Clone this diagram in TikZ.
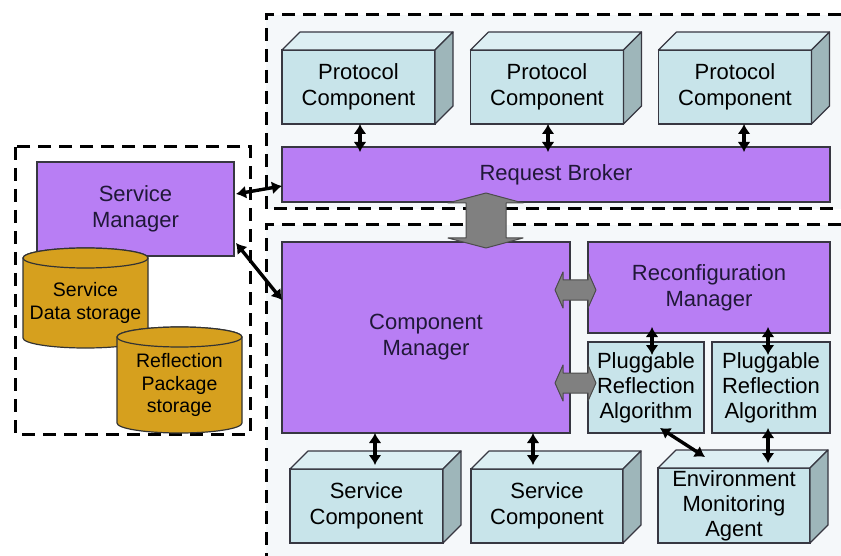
\documentclass[tikz,border=0pt]{standalone}
\usepackage{fontspec}
\setmainfont{Liberation Sans}
\usetikzlibrary{calc,arrows.meta}
\definecolor{purp}{RGB}{184,126,244}
\definecolor{cyanf}{RGB}{200,228,234}
\definecolor{cyant}{RGB}{220,239,243}
\definecolor{cyans}{RGB}{158,182,186}
\definecolor{gold}{RGB}{214,160,30}
\definecolor{edge}{RGB}{55,55,65}
\definecolor{fat}{RGB}{128,128,128}
\definecolor{bgc}{RGB}{245,248,250}
\definecolor{ptext}{RGB}{32,24,56}
\newcommand\cubefaces[1]{%
  \filldraw[fill=cyant, draw=edge, line width=1.2pt, line join=round]
    (#1.north west) -- ++(18,-18) -- ($(#1.north east)+(18,-18)$) -- (#1.north east) -- cycle;
  \filldraw[fill=cyans, draw=edge, line width=1.2pt, line join=round]
    (#1.north east) -- ++(18,-18) -- ($(#1.south east)+(18,-18)$) -- (#1.south east) -- cycle;}
\newcommand\cylbody[1]{%
  \filldraw[cylfill] ($(#1.north west)+(0,10)$) -- ($(#1.south west)+(0,-10)$)
    arc[start angle=180,end angle=360,x radius=62.5pt,y radius=10pt]
    -- ($(#1.north east)+(0,10)$)
    arc[start angle=0,end angle=180,x radius=62.5pt,y radius=10pt] -- cycle;
  \filldraw[cylfill] ($(#1.north)+(0,10)$) ellipse[x radius=62.5pt,y radius=10pt];}
\begin{document}
\begin{tikzpicture}[x=1pt,y=-1pt,
  font=\fontsize{22}{26}\selectfont,
  purpbox/.style={draw=edge, line width=1.2pt, fill=purp, inner sep=0pt, outer sep=0pt, align=center, text=ptext},
  cubefront/.style={draw=edge, line width=1.2pt, fill=cyanf, inner sep=0pt, outer sep=0pt, align=center, minimum height=74pt, minimum width=153pt},
  flatbox/.style={draw=edge, line width=1.2pt, fill=cyanf, inner sep=0pt, outer sep=0pt, align=center, font=\fontsize{22}{25}\selectfont},
  dashbox/.style={dash pattern=on 13pt off 8pt, line width=3pt, black},
  dbl/.style={{Latex[length=10pt,width=13pt]}-{Latex[length=10pt,width=13pt]}, line width=3.4pt, black},
  fatarrow/.style={fill=fat, draw=black!70, line width=1pt, line join=round},
  cylfill/.style={fill=gold, draw=black!80, line width=1.2pt},
  cylarea/.style={minimum width=125pt, inner sep=0pt, outer sep=0pt},
  cyltext/.style={align=center, inner sep=0pt, font=\fontsize{19.5}{22.5}\selectfont, text=black}
  ]
\useasboundingbox (0,0) rectangle (841,556);
\fill[white] (0,0) rectangle (841,556);
% dashed frames
\fill[bgc] (266,15) rectangle (841,209);
\draw[dashbox] (841,15) -- (266,15) -- (266,209) -- (841,209);
\fill[bgc] (266,225) rectangle (841,556);
\draw[dashbox] (841,225) -- (266,225) -- (266,556);
\fill[white] (15,147) rectangle (250,434);
\draw[dashbox] (15,147) rectangle (250,434);

% protocol components
\node[cubefront] (p1) at (358.5,87) {Protocol\\Component};
\cubefaces{p1}
\node[cubefront] (p2) at (547,87) {Protocol\\Component};
\cubefaces{p2}
\node[cubefront] (p3) at (735,87) {Protocol\\Component};
\cubefaces{p3}

\node[purpbox, minimum width=548pt, minimum height=55pt] (rb) at (556,174.5) {Request Broker};

% left side
\node[purpbox, minimum width=197pt, minimum height=94pt] (sm) at (135.5,209) {Service\\Manager};
\node[cylarea, minimum height=100pt] (c1) at (85.5,298) {};
\cylbody{c1}
\node[cyltext] (c1t) at ($(c1.center)+(0,5)$) {Service\\Data storage};
\node[cylarea, minimum height=106pt] (c2) at (179.5,380) {};
\cylbody{c2}
\node[cyltext] (c2t) at ($(c2.center)+(0,5)$) {Reflection\\Package\\storage};

% lower part
\node[purpbox, minimum width=288pt, minimum height=191pt] (cm) at (426,337.5) {Component\\Manager};
\node[purpbox, minimum width=242pt, minimum height=91pt] (rc) at (709,287.5) {Reconfiguration\\Manager};
\node[flatbox, minimum width=116pt, minimum height=91pt] (pl1) at (646,387.5) {Pluggable\\Reflection\\Algorithm};
\node[flatbox, minimum width=118pt, minimum height=91pt] (pl2) at (771,387.5) {Pluggable\\Reflection\\Algorithm};

\node[cubefront] (sc1) at (366.5,506) {Service\\Component};
\cubefaces{sc1}
\node[cubefront, minimum width=152pt] (sc2) at (547,506) {Service\\Component};
\cubefaces{sc2}
\node[cubefront, minimum width=152pt, minimum height=75pt, font=\fontsize{22}{25}\selectfont] (ema) at (734,505.5) {Environment\\Monitoring\\Agent};
\cubefaces{ema}

% fat gray double arrows
\begin{scope}[shift={(486,220.5)}]
\filldraw[fatarrow] (0,-27.5) -- (37,-17.5) -- (20,-17.5) -- (20,17.5) -- (37,17.5) -- (0,27.5)
  -- (-38,17.5) -- (-20,17.5) -- (-20,-17.5) -- (-38,-17.5) -- cycle;
\end{scope}
\begin{scope}[shift={(575.5,290)}]
\filldraw[fatarrow] (-20.5,0) -- (-12.5,-18) -- (-12.5,-10) -- (12.5,-10) -- (12.5,-18) -- (20.5,0)
  -- (12.5,18) -- (12.5,10) -- (-12.5,10) -- (-12.5,18) -- cycle;
\end{scope}
\begin{scope}[shift={(575.5,383)}]
\filldraw[fatarrow] (-20.5,0) -- (-12.5,-18) -- (-12.5,-10) -- (12.5,-10) -- (12.5,-18) -- (20.5,0)
  -- (12.5,18) -- (12.5,10) -- (-12.5,10) -- (-12.5,18) -- cycle;
\end{scope}

% black double arrows
\draw[dbl] ($(p1.south)+(1.5,0)$) -- ($(p1.south |- rb.north)+(1.5,5)$);
\draw[dbl] ($(p2.south)+(1,0)$) -- ($(p2.south |- rb.north)+(1,5)$);
\draw[dbl] ($(p3.south)+(9,0)$) -- ($(p3.south |- rb.north)+(9,5)$);
\draw[dbl] ($(sm.east)+(2,-15)$) -- ($(rb.west)+(0,11.5)$);
\draw[dbl] ($(sm.east)+(2,34)$) -- ($(cm.west)+(0,-37.5)$);
\draw[dbl] ($(cm.south -| sc1.north)+(8.5,0)$) -- ($(sc1.north)+(8.5,-4)$);
\draw[dbl] ($(cm.south -| sc2.north)+(-14,0)$) -- ($(sc2.north)+(-14,-4)$);
\draw[dbl] ($(rc.south -| pl1.north)+(6,-6)$) -- ($(pl1.north)+(6,13)$);
\draw[dbl] ($(rc.south -| pl2.north)+(-3,-6)$) -- ($(pl2.north)+(-3,13)$);
\draw[dbl] ($(pl2.south)+(-3,-5)$) -- ($(pl2.south |- ema.north)+(-3,-5)$);
\draw[dbl] ($(pl1.south)+(14,-5)$) -- ($(ema.north)+(-29,-11)$);
\end{tikzpicture}
\end{document}
